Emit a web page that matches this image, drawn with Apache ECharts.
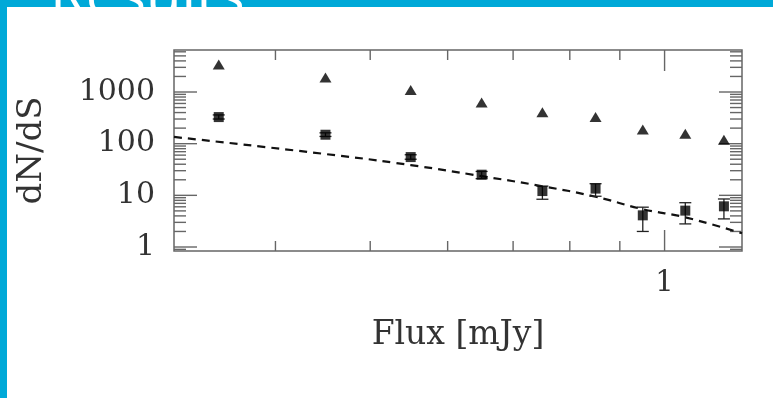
<!DOCTYPE html>
<html>
<head>
<meta charset="utf-8">
<script src="https://cdn.jsdelivr.net/npm/echarts@6/dist/echarts.min.js"></script>
<style>
  html, body { margin: 0; padding: 0; background: #ffffff; }
  #chart { width: 773px; height: 398px; }
</style>
</head>
<body>
<div id="chart"></div>
<script>
// Differential source counts dN/dS versus flux
const fluxBins = [0.35, 0.45, 0.55, 0.65, 0.75, 0.85, 0.95, 1.05, 1.15];

// total counts (triangles)
const totalCounts = [3420, 1915, 1097, 629, 404, 327, 187, 156, 119];

// selected subsample (squares) with error limits
const subCounts = [327, 149, 55, 25.1, 12.1, 13.5, 4.1, 5.06, 6.13];
const subLow    = [300, 138, 50, 21, 8.4, 9.6, 2.0, 2.8, 3.5];
const subHigh   = [360, 162, 61, 29, 15.1, 16.8, 5.9, 7.2, 8.5];

// model curve (dashed)
const modelFlux   = [0.315, 0.45, 0.55, 0.65, 0.75, 0.85, 0.95, 1.05, 1.2];
const modelCounts = [135, 63, 38.5, 23.5, 15, 9.4, 5.4, 3.75, 1.84];

// tick marks
const yMajorTicks = [1, 10, 100, 1000];
const yMinorTicks = [0.9, 2, 3, 4, 5, 6, 7, 8, 9, 20, 30, 40, 50, 60, 70, 80, 90,
                     200, 300, 400, 500, 600, 700, 800, 900, 2000, 3000, 4000, 5000, 6000];
const xMajorTicks = [1];
const xMinorTicks = [0.4, 0.5, 0.6, 0.7, 0.8, 0.9];

const xRange = [0.315, 1.2];
const yRange = [0.837, 6500];

const serif = '"DejaVu Serif", "Liberation Serif", serif';
const frameColor = '#666666';

// tick data: [x, y, kind]  kind 0 = y minor, 1 = y major, 2 = x minor, 3 = x major
const tickData = []
  .concat(yMinorTicks.map(v => [1, v, 0]))
  .concat(yMajorTicks.map(v => [1, v, 1]))
  .concat(xMinorTicks.map(v => [v, 1, 2]))
  .concat(xMajorTicks.map(v => [v, 1, 3]));

function renderTick(params, api) {
  const cs = params.coordSys;
  const kind = api.value(2);
  const p = api.coord([api.value(0), api.value(1)]);
  const style = { stroke: frameColor, lineWidth: 1.4 };
  if (kind < 2) {
    const len = kind === 1 ? 23 : 12;
    const y = p[1];
    return { type: 'group', children: [
      { type: 'line', shape: { x1: cs.x, y1: y, x2: cs.x + len, y2: y }, style },
      { type: 'line', shape: { x1: cs.x + cs.width, y1: y, x2: cs.x + cs.width - len, y2: y }, style }
    ]};
  }
  const len = kind === 3 ? 21 : 10;
  const x = p[0];
  return { type: 'group', children: [
    { type: 'line', shape: { x1: x, y1: cs.y + cs.height, x2: x, y2: cs.y + cs.height - len }, style },
    { type: 'line', shape: { x1: x, y1: cs.y, x2: x, y2: cs.y + len }, style }
  ]};
}

function renderErrorBar(params, api) {
  const x = api.value(0);
  const lo = api.coord([x, api.value(1)]);
  const hi = api.coord([x, api.value(2)]);
  const cap = 6;
  const style = { stroke: '#222', lineWidth: 1.3 };
  return { type: 'group', children: [
    { type: 'line', shape: { x1: lo[0], y1: lo[1], x2: hi[0], y2: hi[1] }, style },
    { type: 'line', shape: { x1: lo[0] - cap, y1: lo[1], x2: lo[0] + cap, y2: lo[1] }, style },
    { type: 'line', shape: { x1: hi[0] - cap, y1: hi[1], x2: hi[0] + cap, y2: hi[1] }, style }
  ]};
}

const chart = echarts.init(document.getElementById('chart'), null, { renderer: 'canvas' });

chart.setOption({
  backgroundColor: '#ffffff',
  animation: false,
  graphic: [
    { type: 'rect', x: 0, y: 0, z: 10, shape: { width: 773, height: 7 }, style: { fill: '#00a9d8' } },
    { type: 'rect', x: 0, y: 0, z: 10, shape: { width: 7, height: 398 }, style: { fill: '#00a9d8' } },
    { type: 'text', x: 50, y: 27, z: 11,
      style: { text: 'Results', fill: '#ffffff', font: '58px "Open Sans", sans-serif',
               verticalAlign: 'bottom', align: 'left' } }
  ],
  grid: {
    left: 174, right: 31, top: 50, bottom: 147,
    show: true, borderColor: frameColor, borderWidth: 1.5, backgroundColor: 'transparent'
  },
  xAxis: {
    type: 'log', logBase: 10, min: xRange[0], max: xRange[1],
    name: 'Flux [mJy]', nameLocation: 'middle', nameGap: 68,
    nameTextStyle: { fontFamily: serif, fontSize: 33, color: '#333' },
    axisLine: { show: false }, axisTick: { show: false }, splitLine: { show: false },
    axisLabel: {
      fontFamily: serif, fontSize: 29, color: '#333', margin: 18,
      formatter: v => (Math.abs(v - 1) < 1e-6 ? '1' : '')
    }
  },
  yAxis: {
    type: 'log', logBase: 10, min: yRange[0], max: yRange[1],
    name: 'dN/dS', nameLocation: 'middle', nameGap: 125,
    nameTextStyle: { fontFamily: serif, fontSize: 34, color: '#333' },
    axisLine: { show: false }, axisTick: { show: false }, splitLine: { show: false },
    axisLabel: {
      fontFamily: serif, fontSize: 30, color: '#333', margin: 19,
      formatter: v => {
        const l = Math.log10(v);
        return Math.abs(l - Math.round(l)) < 1e-6 ? String(Math.round(v)) : '';
      }
    }
  },
  series: [
    {
      type: 'custom', name: 'ticks', renderItem: renderTick, data: tickData,
      encode: { x: 0, y: 1 }, silent: true, z: 1
    },
    {
      type: 'line', name: 'model', data: modelFlux.map((x, i) => [x, modelCounts[i]]),
      showSymbol: false, symbol: 'none', smooth: true, clip: true,
      lineStyle: { color: '#111', width: 2.2, type: [8, 6] }, z: 2
    },
    {
      type: 'custom', name: 'errors', renderItem: renderErrorBar,
      data: fluxBins.map((x, i) => [x, subLow[i], subHigh[i]]),
      encode: { x: 0, y: [1, 2] }, z: 3
    },
    {
      type: 'scatter', name: 'subsample', data: fluxBins.map((x, i) => [x, subCounts[i]]),
      symbol: 'rect', symbolSize: [10, 10], itemStyle: { color: '#000' }, z: 4
    },
    {
      type: 'scatter', name: 'total', data: fluxBins.map((x, i) => [x, totalCounts[i]]),
      symbol: 'triangle', symbolSize: [12, 10], itemStyle: { color: '#000' }, z: 4
    }
  ]
});
</script>
</body>
</html>
